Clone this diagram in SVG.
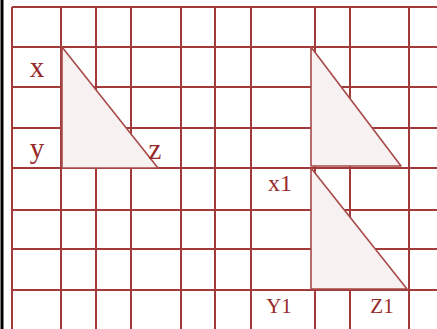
<svg xmlns="http://www.w3.org/2000/svg" width="437" height="329" viewBox="0 0 437 329">
<style>
.g{stroke:#a23a3a;stroke-width:2;fill:none}
.t{fill:#f8f1f1;stroke:#a84a4a;stroke-width:1.6;stroke-linejoin:round}
.l{font-family:"Liberation Serif","Times New Roman",serif;fill:#962a2a;text-anchor:middle}
</style>
<rect width="437" height="329" fill="#ffffff"/>
<line x1="2" y1="0" x2="2" y2="329" stroke="#000" stroke-width="3"/>
<g id="grid" class="g">
<path d="M12 7H437M12 47H437M12 87H437M12 128H437M12 168H437M12 210H437M12 249H437M12 290H437"/>
<path d="M12 7V329M61 7V329M96 7V329M131 7V329M181 7V329M215 7V329M251 7V329M315 7V329M350 7V329M409 7V329"/>
</g>
<g id="triangle-xyz">
<polygon class="t" points="62,47 62,168 158,168"/>
<text class="l" x="37" y="77" font-size="29">x</text>
<text class="l" x="37" y="158" font-size="29">y</text>
<text class="l" x="155" y="159" font-size="29">z</text>
</g>
<g id="triangle-top-right">
<polygon class="t" points="311,47 311,166 401,166"/>
</g>
<g id="triangle-x1y1z1">
<polygon class="t" points="311,168 311,289 407,289"/>
<text class="l" x="280" y="191" font-size="24">x1</text>
<text class="l" x="279" y="313" font-size="21">Y1</text>
<text class="l" x="382" y="313" font-size="21">Z1</text>
</g>
</svg>
